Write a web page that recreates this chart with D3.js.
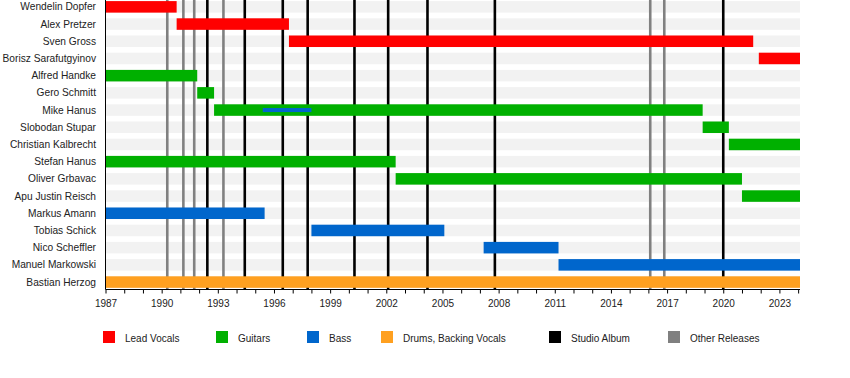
<!DOCTYPE html>
<html>
<head>
<meta charset="utf-8">
<script src="https://cdn.jsdelivr.net/npm/d3@7"></script>
<style>
  body { margin: 0; background: #fff; }
  text { font-family: "Liberation Sans", Arial, sans-serif; fill: #222; }
</style>
</head>
<body>
<div id="chart-area"></div>
<script>
// band members, top to bottom
var members = ["Wendelin Dopfer", "Alex Pretzer", "Sven Gross", "Borisz Sarafutgyinov",
  "Alfred Handke", "Gero Schmitt", "Mike Hanus", "Slobodan Stupar", "Christian Kalbrecht",
  "Stefan Hanus", "Oliver Grbavac", "Apu Justin Reisch", "Markus Amann", "Tobias Schick",
  "Nico Scheffler", "Manuel Markowski", "Bastian Herzog"];

// membership periods (decimal years)
var periodMember = ["Wendelin Dopfer", "Alex Pretzer", "Sven Gross", "Borisz Sarafutgyinov",
  "Alfred Handke", "Gero Schmitt", "Mike Hanus", "Slobodan Stupar", "Christian Kalbrecht",
  "Stefan Hanus", "Oliver Grbavac", "Apu Justin Reisch", "Markus Amann", "Tobias Schick",
  "Nico Scheffler", "Manuel Markowski", "Bastian Herzog", "Mike Hanus"];
var periodStart = [1987, 1990.8, 1996.8, 2021.9, 1987, 1991.9, 1992.8, 2018.9, 2020.3,
  1987, 2002.5, 2021.0, 1987, 1998.0, 2007.2, 2011.2, 1987, 1995.4];
var periodEnd = [1990.8, 1996.8, 2021.6, 2024.1, 1991.9, 1992.8, 2018.9, 2020.3, 2024.1,
  2002.5, 2021.0, 2024.1, 1995.5, 2005.1, 2011.2, 2024.1, 2024.1, 1998.0];
var periodRole = ["Lead Vocals", "Lead Vocals", "Lead Vocals", "Lead Vocals", "Guitars",
  "Guitars", "Guitars", "Guitars", "Guitars", "Guitars", "Guitars", "Guitars", "Bass",
  "Bass", "Bass", "Bass", "Drums, Backing Vocals", "Bass"];
var periodThin = [false, false, false, false, false, false, false, false, false, false,
  false, false, false, false, false, false, false, true];

// releases
var studioAlbums = [1992.44, 1994.44, 1996.47, 1997.8, 2000.3, 2002.1, 2004.2, 2007.8, 2020.0];
var otherReleases = [1990.3, 1991.16, 1991.74, 1993.3, 2016.1, 2016.85];

// legend
var legendNames = ["Lead Vocals", "Guitars", "Bass", "Drums, Backing Vocals", "Studio Album", "Other Releases"];
var legendColors = ["#ff0000", "#00b000", "#0066cc", "#ffa020", "#000000", "#808080"];
var legendX = [103, 216, 307, 381, 549, 668];

var tickYears = d3.range(1987, 2024, 3);
var minorYears = d3.range(1987, 2025, 1);

var color = d3.scaleOrdinal().domain(legendNames).range(legendColors);

var svg = d3.select("#chart-area")
  .append("svg")
  .attr("width", 850)
  .attr("height", 378);

var x = d3.scaleLinear()
  .domain([1987, 2024.1])
  .range([105.5, 800]);

var y = d3.scaleBand()
  .domain(members)
  .range([-1.74, 290.66])
  .paddingInner(0.33)
  .paddingOuter(0.165);

var axisY = 289.5;

// background stripes
svg.selectAll(".stripe")
  .data(members)
  .enter()
  .append("rect")
  .attr("class", "stripe")
  .attr("x", x(1987))
  .attr("width", x(2024.1) - x(1987))
  .attr("y", function(d) { return y(d); })
  .attr("height", y.bandwidth())
  .attr("fill", "#f2f2f2");

// release lines
svg.selectAll(".other")
  .data(otherReleases)
  .enter()
  .append("line")
  .attr("x1", function(d) { return x(d); })
  .attr("x2", function(d) { return x(d); })
  .attr("y1", 0)
  .attr("y2", axisY)
  .attr("stroke", "#808080")
  .attr("stroke-width", 2.6);

svg.selectAll(".studio")
  .data(studioAlbums)
  .enter()
  .append("line")
  .attr("x1", function(d) { return x(d); })
  .attr("x2", function(d) { return x(d); })
  .attr("y1", 0)
  .attr("y2", axisY)
  .attr("stroke", "#000")
  .attr("stroke-width", 2.6);

// bars
svg.selectAll(".bar")
  .data(d3.range(periodMember.length))
  .enter()
  .append("rect")
  .attr("class", "bar")
  .attr("x", function(i) { return x(periodStart[i]); })
  .attr("width", function(i) { return x(periodEnd[i]) - x(periodStart[i]); })
  .attr("y", function(i) {
    var top = y(periodMember[i]);
    return periodThin[i] ? top + y.bandwidth() / 2 - 2 : top;
  })
  .attr("height", function(i) { return periodThin[i] ? 4 : y.bandwidth(); })
  .attr("fill", function(i) { return color(periodRole[i]); });

// member labels
svg.selectAll(".name")
  .data(members)
  .enter()
  .append("text")
  .attr("x", 96)
  .attr("y", function(d) { return y(d) + y.bandwidth() / 2; })
  .attr("dy", "0.35em")
  .attr("text-anchor", "end")
  .style("font-size", "10.2px")
  .text(function(d) { return d; });

// left line
svg.append("line")
  .attr("x1", 105.5).attr("x2", 105.5)
  .attr("y1", 0).attr("y2", axisY)
  .attr("stroke", "#000");

// x axis
var xAxis = svg.append("g")
  .attr("transform", "translate(0," + axisY + ")")
  .call(d3.axisBottom(x).tickValues(minorYears).tickSize(4)
    .tickFormat(function(d) { return tickYears.includes(d) ? d : ""; }));
xAxis.select(".domain").attr("d", "M" + x(1987) + ",0H" + x(2024.1));
xAxis.selectAll("text")
  .style("font-size", "10px")
  .style("font-family", "Liberation Sans, Arial, sans-serif")
  .attr("y", 10);

// legend
var leg = svg.selectAll(".legend")
  .data(legendNames)
  .enter()
  .append("g")
  .attr("transform", function(d, i) { return "translate(" + legendX[i] + ",331)"; });
leg.append("rect")
  .attr("width", 12)
  .attr("height", 12)
  .attr("fill", function(d) { return color(d); });
leg.append("text")
  .attr("x", 22)
  .attr("y", 7)
  .attr("dy", "0.35em")
  .style("font-size", "10px")
  .text(function(d) { return d; });
</script>
</body>
</html>
